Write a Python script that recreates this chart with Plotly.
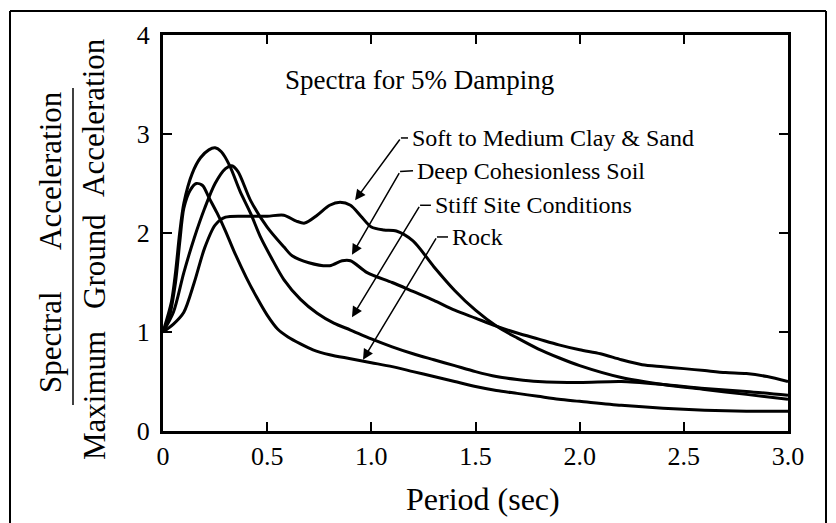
import plotly.graph_objects as go

# ---- data ----
soft_x = [0, 0.05, 0.1, 0.15, 0.2, 0.25, 0.3, 0.4, 0.5, 0.58, 0.64, 0.68, 0.74, 0.8, 0.85, 0.9, 0.95, 1.0, 1.06, 1.12,
          1.2, 1.3, 1.4, 1.5, 1.6, 1.7, 1.8, 1.9, 2.0, 2.2, 2.4, 2.6, 2.8, 3.0]
soft_y = [1.0, 1.08, 1.2, 1.5, 1.85, 2.08, 2.16, 2.17, 2.17, 2.18, 2.12, 2.1, 2.18, 2.28, 2.31, 2.28, 2.17, 2.06, 2.03, 2.02,
          1.92, 1.66, 1.42, 1.22, 1.06, 0.94, 0.83, 0.74, 0.66, 0.54, 0.47, 0.42, 0.37, 0.32]

deep_x = [0, 0.05, 0.1, 0.15, 0.2, 0.25, 0.3, 0.33, 0.36, 0.42, 0.5, 0.58, 0.62, 0.7, 0.8, 0.86, 0.9, 0.98, 1.1, 1.2,
          1.3, 1.4, 1.5, 1.6, 1.7, 1.8, 1.9, 2.0, 2.1, 2.2, 2.3, 2.4, 2.5, 2.6, 2.7, 2.8, 2.9, 3.0]
deep_y = [1.0, 1.2, 1.6, 1.95, 2.25, 2.5, 2.65, 2.68, 2.62, 2.33, 2.06, 1.86, 1.77, 1.7, 1.67, 1.72, 1.72, 1.6, 1.5, 1.41,
          1.32, 1.22, 1.14, 1.06, 0.99, 0.93, 0.87, 0.82, 0.78, 0.72, 0.67, 0.65, 0.63, 0.61, 0.59, 0.58, 0.55, 0.5]

stiff_x = [0, 0.04, 0.06, 0.08, 0.1, 0.14, 0.18, 0.22, 0.25, 0.28, 0.32, 0.37, 0.42, 0.47, 0.52, 0.58, 0.66, 0.74, 0.82,
           0.9, 1.0, 1.1, 1.2, 1.3, 1.4, 1.5, 1.6, 1.7, 1.8, 2.0, 2.2, 2.4, 2.6, 2.8, 3.0]
stiff_y = [1.0, 1.3, 1.6, 2.0, 2.3, 2.6, 2.76, 2.84, 2.86, 2.82, 2.68, 2.42, 2.2, 1.95, 1.75, 1.53, 1.33, 1.19, 1.09,
           1.02, 0.93, 0.85, 0.78, 0.72, 0.66, 0.6, 0.55, 0.52, 0.5, 0.49, 0.5, 0.47, 0.43, 0.4, 0.36]

rock_x = [0, 0.03, 0.06, 0.08, 0.1, 0.13, 0.16, 0.19, 0.22, 0.26, 0.3, 0.34, 0.4, 0.45, 0.5, 0.55, 0.6, 0.66, 0.72, 0.8,
          0.9, 1.0, 1.1, 1.2, 1.3, 1.4, 1.5, 1.6, 1.7, 1.8, 1.9, 2.0, 2.2, 2.4, 2.6, 2.8, 3.0]
rock_y = [1.0, 1.15, 1.5, 1.9, 2.25, 2.43, 2.5, 2.48, 2.36, 2.2, 2.02, 1.82, 1.55, 1.35, 1.17, 1.03, 0.95, 0.88, 0.82, 0.77,
          0.73, 0.69, 0.65, 0.6, 0.55, 0.5, 0.45, 0.41, 0.38, 0.35, 0.32, 0.3, 0.26, 0.23, 0.21, 0.2, 0.2]

x_tickvals = [0, 0.5, 1.0, 1.5, 2.0, 2.5, 3.0]
x_ticktext = ["0", "0.5", "1.0", "1.5", "2.0", "2.5", "3.0"]
y_tickvals = [0, 1, 2, 3, 4]
y_ticktext = ["0", "1", "2", "3", "4"]

labels = ["Soft to Medium Clay & Sand", "Deep Cohesionless Soil", "Stiff Site Conditions", "Rock"]
label_x = [1.186, 1.21, 1.296, 1.378]
label_y = [2.96, 2.63, 2.28, 1.96]
bend_x = [1.142, 1.138, 1.234, 1.315]
bend_y = [2.96, 2.62, 2.28, 1.96]
tip_x = [0.922, 0.907, 0.907, 0.96]
tip_y = [2.33, 1.78, 1.15, 0.72]

FONT = "Liberation Serif, Times New Roman, serif"

fig = go.Figure()
for xs, ys in [(soft_x, soft_y), (deep_x, deep_y), (stiff_x, stiff_y), (rock_x, rock_y)]:
    fig.add_trace(go.Scatter(x=xs, y=ys, mode="lines",
                             line=dict(color="black", width=3, shape="spline", smoothing=0.8),
                             showlegend=False, hoverinfo="skip"))

annotations = []
shapes = []
for i, lab in enumerate(labels):
    annotations.append(dict(x=label_x[i], y=label_y[i], xref="x", yref="y", text=lab, showarrow=False,
                            xanchor="left", yanchor="middle", font=dict(family=FONT, size=24, color="black")))
    shapes.append(dict(type="line", xref="x", yref="y", x0=bend_x[i], y0=bend_y[i], x1=label_x[i] - 0.01, y1=label_y[i],
                       line=dict(color="black", width=1.5)))
    annotations.append(dict(x=tip_x[i], y=tip_y[i], xref="x", yref="y", ax=bend_x[i], ay=bend_y[i],
                            axref="x", ayref="y", text="", showarrow=True, arrowhead=2, arrowsize=1.4,
                            arrowwidth=1.5, arrowcolor="black"))

annotations.append(dict(x=1.229, y=3.545, xref="x", yref="y", text="Spectra for 5% Damping", showarrow=False,
                        xanchor="center", yanchor="middle",
                        font=dict(family=FONT, size=27, color="black")))


def px2paper_x(px):
    return (px - 163) / 625.0


def px2paper_y(py):
    return (431 - py) / 396.0


annotations.append(dict(x=px2paper_x(483), y=px2paper_y(499), xref="paper", yref="paper", text="Period (sec)",
                        showarrow=False, xanchor="center", yanchor="middle",
                        font=dict(family=FONT, size=32, color="black")))

# y-axis title as a fraction
ytitle_words = [("Spectral", 50, 342), ("Acceleration", 50, 171),
                ("Maximum", 94, 396), ("Ground", 94, 262), ("Acceleration", 94, 118)]
for w, px, py in ytitle_words:
    annotations.append(dict(x=px2paper_x(px), y=px2paper_y(py), xref="paper", yref="paper", text=w,
                            showarrow=False, textangle=-90, xanchor="center", yanchor="middle",
                            font=dict(family=FONT, size=31, color="black")))
shapes.append(dict(type="line", xref="paper", yref="paper", x0=px2paper_x(73), x1=px2paper_x(73),
                   y0=px2paper_y(88), y1=px2paper_y(405), line=dict(color="black", width=1.5)))

# outer frame (left, top, right)
shapes.append(dict(type="line", xref="paper", yref="paper", x0=px2paper_x(10), x1=px2paper_x(10),
                   y0=px2paper_y(11), y1=px2paper_y(530), line=dict(color="black", width=2)))
shapes.append(dict(type="line", xref="paper", yref="paper", x0=px2paper_x(10), x1=px2paper_x(826),
                   y0=px2paper_y(11), y1=px2paper_y(11), line=dict(color="black", width=2)))
shapes.append(dict(type="line", xref="paper", yref="paper", x0=px2paper_x(826), x1=px2paper_x(826),
                   y0=px2paper_y(11), y1=px2paper_y(530), line=dict(color="black", width=2)))

fig.update_layout(
    width=836, height=523,
    margin=dict(l=163, r=48, t=35, b=92),
    paper_bgcolor="white", plot_bgcolor="white",
    annotations=annotations, shapes=shapes,
    xaxis=dict(range=[0, 3.0], tickvals=x_tickvals, ticktext=x_ticktext, ticks="inside", ticklen=9,
               tickwidth=1.5, tickcolor="black", showline=True, linecolor="black", linewidth=3, mirror="ticks",
               showgrid=False, zeroline=False, tickfont=dict(family=FONT, size=26, color="black")),
    yaxis=dict(range=[0, 4.0], tickvals=y_tickvals, ticktext=y_ticktext, ticks="inside", ticklen=9,
               tickwidth=1.5, tickcolor="black", showline=True, linecolor="black", linewidth=3, mirror="ticks",
               showgrid=False, zeroline=False, ticklabelstandoff=5,
               tickfont=dict(family=FONT, size=26, color="black")),
)

fig.write_html("out.html")
